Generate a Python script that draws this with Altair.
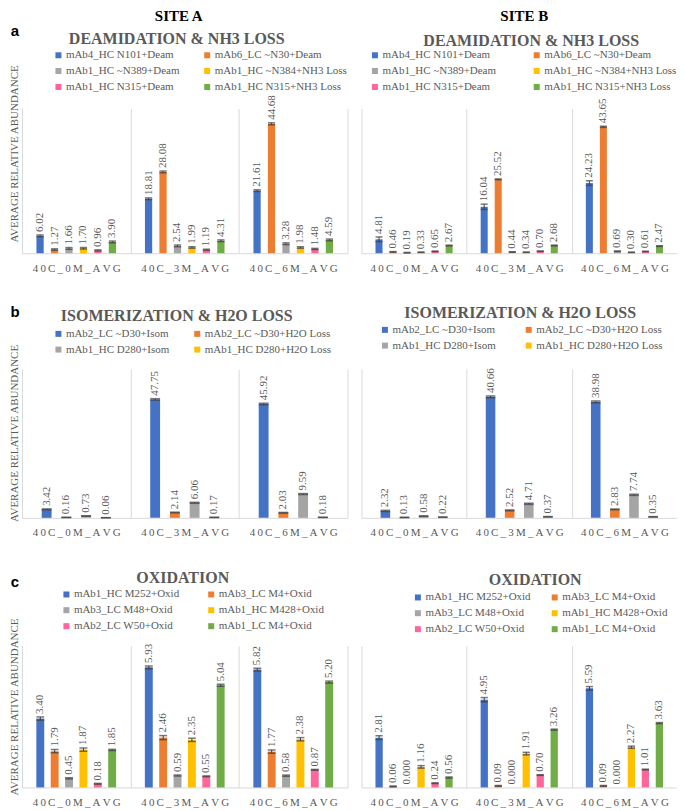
import altair as alt
import pandas as pd

# ---------------- data ----------------
cats = ["40C_0M_AVG", "40C_3M_AVG", "40C_6M_AVG"]

deam_series = ["mAb4_HC N101+Deam", "mAb6_LC ~N30+Deam", "mAb1_HC ~N389+Deam",
               "mAb1_HC ~N384+NH3 Loss", "mAb1_HC N315+Deam", "mAb1_HC N315+NH3 Loss"]
deam_a_vals = [[6.02, 18.81, 21.61], [1.27, 28.08, 44.68], [1.66, 2.54, 3.28],
               [1.70, 1.99, 1.98], [0.96, 1.19, 1.48], [3.90, 4.31, 4.59]]
deam_a_errs = [[0.3, 0.3, 0.3], [0.25, 0.3, 0.35], [0.3, 0.3, 0.3],
               [0.25, 0.25, 0.25], [0.2, 0.2, 0.2], [0.3, 0.3, 0.3]]
deam_b_vals = [[4.81, 16.04, 24.23], [0.46, 25.52, 43.65], [0.19, 0.44, 0.69],
               [0.33, 0.34, 0.30], [0.65, 0.70, 0.61], [2.67, 2.68, 2.47]]
deam_b_errs = [[0.8, 0.9, 0.8], [0.1, 0.15, 0.2], [0.08, 0.08, 0.08],
               [0.05, 0.05, 0.05], [0.08, 0.08, 0.08], [0.12, 0.12, 0.12]]

isom_series = ["mAb2_LC ~D30+Isom", "mAb2_LC ~D30+H2O Loss",
               "mAb1_HC D280+Isom", "mAb1_HC D280+H2O Loss"]
isom_a_vals = [[3.42, 47.75, 45.92], [0.16, 2.14, 2.03], [0.73, 6.06, 9.59], [0.06, 0.17, 0.18]]
isom_a_errs = [[0.2, 0.3, 0.3], [0.05, 0.15, 0.15], [0.1, 0.2, 0.2], [0.02, 0.03, 0.03]]
isom_b_vals = [[2.32, 40.66, 38.98], [0.13, 2.52, 2.83], [0.58, 4.71, 7.74], [0.22, 0.37, 0.35]]
isom_b_errs = [[0.2, 0.3, 0.3], [0.05, 0.15, 0.15], [0.1, 0.2, 0.2], [0.05, 0.05, 0.05]]

oxid_series = ["mAb1_HC M252+Oxid", "mAb3_LC M4+Oxid", "mAb3_LC M48+Oxid",
               "mAb1_HC M428+Oxid", "mAb2_LC W50+Oxid", "mAb1_LC M4+Oxid"]
oxid_a_vals = [[3.40, 5.93, 5.82], [1.79, 2.46, 1.77], [0.45, 0.59, 0.58],
               [1.87, 2.35, 2.38], [0.18, 0.55, 0.87], [1.85, 5.04, 5.20]]
oxid_a_errs = [[0.08, 0.07, 0.07], [0.08, 0.1, 0.08], [0.03, 0.03, 0.03],
               [0.08, 0.08, 0.08], [0.02, 0.02, 0.02], [0.03, 0.05, 0.05]]
oxid_b_vals = [[2.81, 4.95, 5.59], [0.06, 0.09, 0.09], [0.0, 0.0, 0.0],
               [1.16, 1.91, 2.27], [0.24, 0.70, 1.01], [0.56, 3.26, 3.63]]
oxid_b_errs = [[0.1, 0.12, 0.1], [0.02, 0.02, 0.02], [0.0, 0.0, 0.0],
               [0.07, 0.07, 0.06], [0.02, 0.02, 0.02], [0.03, 0.03, 0.03]]

colors6 = ["#4472C4", "#ED7D31", "#A5A5A5", "#FFC000", "#FF6699", "#70AD47"]
colors4 = ["#4472C4", "#ED7D31", "#A5A5A5", "#FFC000"]

# ---------------- style ----------------
SERIF = "Liberation Serif, Times New Roman, Times, DejaVu Serif, serif"
SANS = "Liberation Sans, Arial, DejaVu Sans, sans-serif"
TXT = "#595959"
GRID = "#d9d9d9"
ERR = "#404040"
WA, WB = 326, 316


def make_df(series, vals, errs, decimals=None):
    decimals = decimals or {}
    rows = []
    for s, vs, es in zip(series, vals, errs):
        d = decimals.get(s, 2)
        for c, v, e in zip(cats, vs, es):
            rows.append(dict(cat=c, series=s, val=v, err=e, lo=v - e, hi=v + e,
                             label=f"{v:.{d}f}"))
    return pd.DataFrame(rows)


def txt(text, x, y, size, weight, color, font):
    return alt.Chart(pd.DataFrame({"t": [text]})).mark_text(
        align="center", baseline="middle", font=font, fontSize=size,
        fontWeight=weight, color=color
    ).encode(x=alt.value(x), y=alt.value(y), text="t:N")


def panel(df, series, colors, ymax, width, height, pin, left,
          title, tx, ty, lx, ly, cpad, ytitle_y=0, extras=()):
    n = len(series)
    catw = width / 3
    step = catw / (n - pin + 2)
    bw = step * (1 - pin)
    xenc = alt.X("cat:N", sort=cats, scale=alt.Scale(paddingInner=0, paddingOuter=0),
                 axis=alt.Axis(title=None, labelAngle=0, ticks=False, tickBand="extent",
                               grid=True, gridColor=GRID, gridWidth=1,
                               domainColor=GRID, domainWidth=1,
                               labelFont=SERIF, labelFontSize=11, labelColor=TXT,
                               labelPadding=9,
                               labelExpr="join(split(datum.label, ''), '\u2009')"))
    xoff = alt.XOffset("series:N", sort=series,
                       scale=alt.Scale(domain=series, paddingInner=pin, paddingOuter=1))
    if left:
        yaxis = alt.Axis(title="AVERAGE RELATIVE ABUNDANCE", labels=False, ticks=False,
                         domain=False, grid=False, titleFont=SERIF, titleFontSize=11,
                         titleFontWeight="normal", titleColor=TXT, titleAngle=270,
                         titleAlign="center", titleBaseline="bottom", titleLimit=400,
                         titleX=-2, titleY=ytitle_y)
    else:
        yaxis = None

    def yenc(f):
        return alt.Y(f"{f}:Q", scale=alt.Scale(domain=[0, ymax], nice=False, zero=True),
                     axis=yaxis)

    base = alt.Chart(df)
    bars = base.mark_bar().encode(
        x=xenc, xOffset=xoff, y=yenc("val"),
        color=alt.Color("series:N", sort=series,
                        scale=alt.Scale(domain=series, range=colors),
                        legend=alt.Legend(title=None, orient="none", legendX=lx, legendY=ly,
                                          direction="horizontal",
                                          columns=2, columnPadding=cpad, rowPadding=4,
                                          symbolType="square", symbolSize=36,
                                          symbolStrokeWidth=0, labelFont=SERIF,
                                          labelFontSize=11, labelColor=TXT, labelOffset=2,
                                          labelLimit=400, padding=0)))
    errb = base.transform_filter("datum.err > 0")
    rule = errb.mark_rule(color=ERR, strokeWidth=1).encode(
        x=xenc, xOffset=xoff, y=yenc("lo"), y2="hi:Q")
    cap_hi = errb.mark_tick(color=ERR, thickness=1.5, size=bw, orient="horizontal").encode(
        x=xenc, xOffset=xoff, y=yenc("hi"))
    cap_lo = errb.mark_tick(color=ERR, thickness=1.5, size=bw, orient="horizontal").encode(
        x=xenc, xOffset=xoff, y=yenc("lo"))
    labels = base.mark_text(angle=270, align="left", baseline="middle", dx=3,
                            font=SERIF, fontSize=11, color=TXT).encode(
        x=xenc, xOffset=xoff, y=yenc("hi"), text="label:N")
    ttl = txt(title, tx, ty, 16, "bold", TXT, SERIF)
    return alt.layer(bars, rule, cap_hi, cap_lo, labels, ttl, *extras).properties(
        width=width, height=height)


HA, HB, HC = 145, 149, 142

pa_A = panel(make_df(deam_series, deam_a_vals, deam_a_errs), deam_series, colors6, 50,
             WA, HA, 0.5, True, "DEAMIDATION & NH3 LOSS", 155, -70, 31, -59, 22,
             ytitle_y=45,
             extras=[txt("SITE A", 157, -93, 15, "bold", "black", SERIF),
                     txt("a", -7, -78, 15, "bold", "black", SANS)])
pa_B = panel(make_df(deam_series, deam_b_vals, deam_b_errs), deam_series, colors6, 50,
             WB, HA, 0.5, False, "DEAMIDATION & NH3 LOSS", 170, -68, 8, -59, 35,
             extras=[txt("SITE B", 163, -93, 15, "bold", "black", SERIF)])

pb_A = panel(make_df(isom_series, isom_a_vals, isom_a_errs), isom_series, colors4, 60,
             WA, HB, 0.5, True, "ISOMERIZATION & H2O LOSS", 155, -53, 31, -41, 22,
             ytitle_y=64,
             extras=[txt("b", -7, -57, 15, "bold", "black", SANS)])
pb_B = panel(make_df(isom_series, isom_b_vals, isom_b_errs), isom_series, colors4, 50,
             WB, HB, 0.5, False, "ISOMERIZATION & H2O LOSS", 159, -56, 18, -45, 27)

pc_A = panel(make_df(oxid_series, oxid_a_vals, oxid_a_errs), oxid_series, colors6, 7,
             WA, HC, 0.45, True, "OXIDATION", 161, -68, 39, -57, 26,
             ytitle_y=61,
             extras=[txt("c", -7, -64, 15, "bold", "black", SANS)])
pc_B = panel(make_df(oxid_series, oxid_b_vals, oxid_b_errs, {"mAb3_LC M48+Oxid": 3}),
             oxid_series, colors6, 8,
             WB, HC, 0.48, False, "OXIDATION", 174, -66, 51, -54, 18)

chart = alt.concat(pa_A, pa_B, pb_A, pb_B, pc_A, pc_B, columns=2,
                   spacing=alt.RowColnumber(row=32, column=14), align="each").resolve_scale(
    color="independent", x="independent", y="independent", xOffset="independent"
).resolve_legend(color="independent").configure_view(stroke=None).properties(
    padding=0, background="white")

chart.save("out.html", embed_options={"renderer": "svg", "actions": False})
